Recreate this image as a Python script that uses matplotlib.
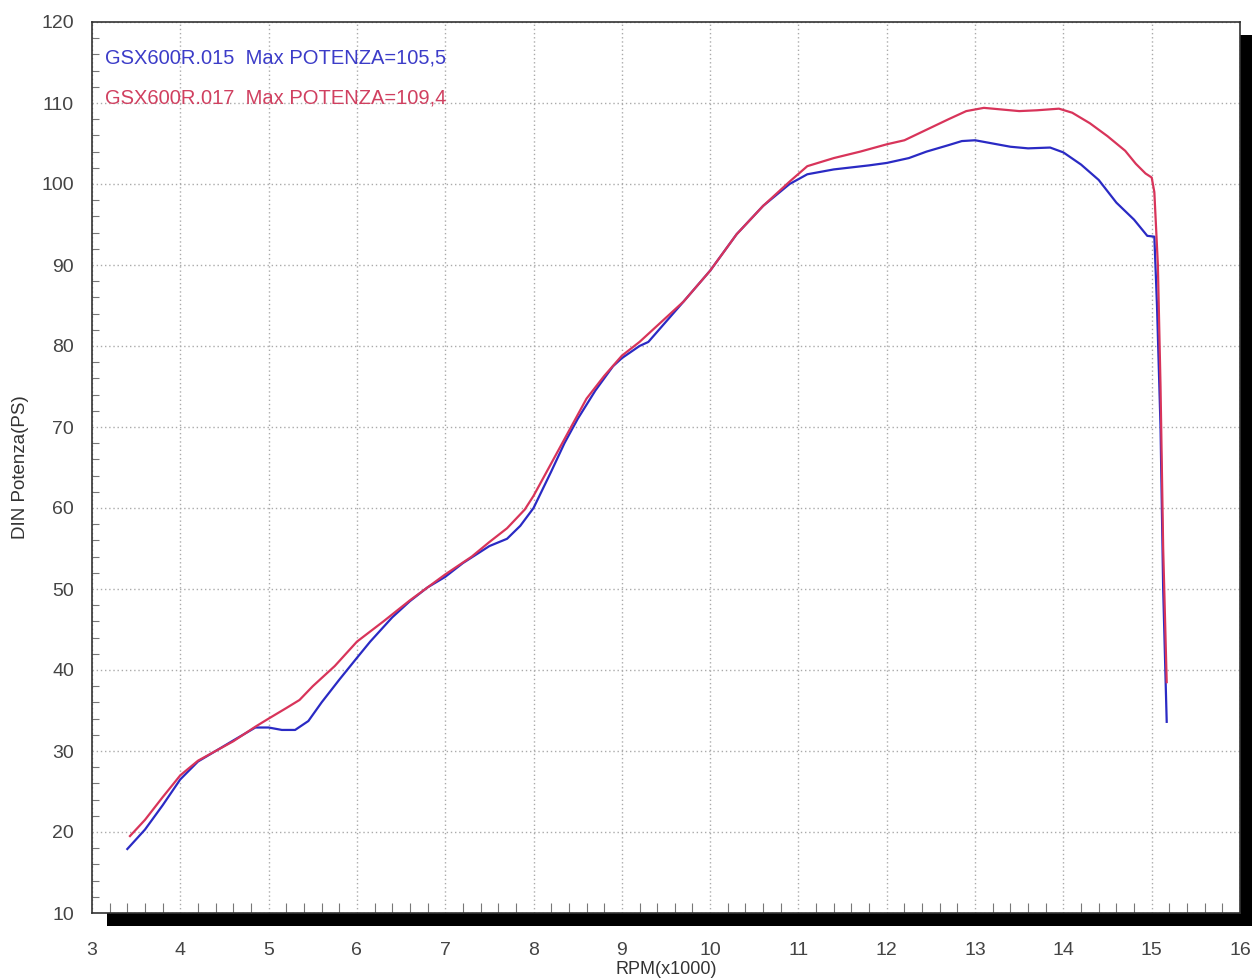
import matplotlib
matplotlib.use("Agg")
import matplotlib.pyplot as plt
from matplotlib.patches import Rectangle
from matplotlib.ticker import MultipleLocator

# run .015 (blue)
rpm_015 = [3.40, 3.60, 3.80, 4.00, 4.20, 4.40, 4.60, 4.85, 5.00, 5.15, 5.30, 5.45,
           5.60, 5.80, 6.00, 6.15, 6.40, 6.60, 6.80, 7.00, 7.20, 7.50, 7.70, 7.85,
           8.00, 8.20, 8.35, 8.50, 8.70, 8.90, 9.00, 9.20, 9.30, 9.50, 9.70, 10.00,
           10.30, 10.60, 10.90, 11.10, 11.40, 11.80, 12.00, 12.25, 12.45, 12.70, 12.85,
           13.00, 13.20, 13.40, 13.60, 13.85, 14.00, 14.20, 14.40, 14.60, 14.80, 14.95,
           15.03, 15.06, 15.10, 15.13, 15.17]
ps_015 = [17.9, 20.3, 23.3, 26.5, 28.7, 30.0, 31.3, 32.9, 32.9, 32.6, 32.6, 33.7,
          36.0, 38.8, 41.5, 43.5, 46.5, 48.5, 50.2, 51.5, 53.2, 55.3, 56.2, 57.8,
          60.0, 64.5, 68.0, 71.0, 74.5, 77.5, 78.5, 80.0, 80.5, 83.0, 85.5, 89.3,
          93.8, 97.3, 100.0, 101.2, 101.8, 102.3, 102.6, 103.2, 104.0, 104.8, 105.3,
          105.4, 105.0, 104.6, 104.4, 104.5, 103.9, 102.4, 100.5, 97.7, 95.6, 93.6,
          93.5, 85.0, 70.0, 50.0, 33.6]

# run .017 (red)
rpm_017 = [3.43, 3.60, 3.80, 4.00, 4.20, 4.40, 4.60, 4.85, 5.00, 5.20, 5.35, 5.50,
           5.75, 6.00, 6.30, 6.60, 7.00, 7.30, 7.50, 7.70, 7.90, 8.00, 8.20, 8.40,
           8.60, 8.80, 9.00, 9.20, 9.40, 9.70, 10.00, 10.30, 10.60, 10.90, 11.10,
           11.40, 11.70, 12.00, 12.20, 12.45, 12.70, 12.90, 13.10, 13.30, 13.50,
           13.70, 13.95, 14.10, 14.30, 14.50, 14.70, 14.82, 14.93, 15.00, 15.03,
           15.07, 15.10, 15.13, 15.17]
ps_017 = [19.5, 21.5, 24.3, 27.0, 28.8, 30.0, 31.2, 33.0, 34.0, 35.3, 36.3, 38.0,
          40.5, 43.5, 46.0, 48.6, 51.8, 54.0, 55.8, 57.5, 59.8, 61.5, 65.5, 69.5,
          73.5, 76.3, 78.8, 80.5, 82.5, 85.5, 89.3, 93.8, 97.3, 100.3, 102.2,
          103.2, 104.0, 104.9, 105.4, 106.7, 108.0, 109.0, 109.4, 109.2, 109.0,
          109.1, 109.3, 108.8, 107.5, 105.9, 104.1, 102.5, 101.3, 100.8, 99.0,
          90.0, 75.0, 55.0, 38.5]

labels = ["GSX600R.015  Max POTENZA=105,5", "GSX600R.017  Max POTENZA=109,4"]
line_colors = ["#2a2ac4", "#d8345a"]
text_colors = ["#3c3cc8", "#d04060"]

W, H = 1254, 980
plt.rcParams["font.family"] = ["Liberation Sans", "DejaVu Sans"]
fig = plt.figure(figsize=(W / 100, H / 100), dpi=100)

# drop shadow behind the plot frame
fig.patches.append(Rectangle((107 / W, 1 - 926 / H), (1252 - 107) / W, (926 - 35) / H,
                             transform=fig.transFigure, facecolor="black",
                             edgecolor="none", zorder=0))

ax = fig.add_axes([92 / W, 1 - 913 / H, (1240 - 92) / W, (913 - 22) / H])
ax.set_zorder(1)
ax.set_facecolor("white")

ax.plot(rpm_015, ps_015, color=line_colors[0], lw=1.6, zorder=3)
ax.plot(rpm_017, ps_017, color=line_colors[1], lw=1.6, zorder=4)

ax.set_xlim(3, 16)
ax.set_ylim(10, 120)
ax.xaxis.set_major_locator(MultipleLocator(1))
ax.xaxis.set_minor_locator(MultipleLocator(0.2))
ax.yaxis.set_major_locator(MultipleLocator(10))
ax.yaxis.set_minor_locator(MultipleLocator(2))
ax.grid(which="major", color="#aaaaaa", linestyle=(0, (1, 2)), linewidth=1)

ax.tick_params(axis="x", which="major", length=0, pad=21, labelsize=14, labelcolor="#444444")
ax.tick_params(axis="y", which="major", length=0, pad=13, labelsize=14, labelcolor="#444444")
ax.tick_params(axis="x", which="minor", direction="in", length=7, width=0.8, color="#777777")
ax.tick_params(axis="y", which="minor", direction="in", length=5, width=0.8, color="#777777")

for s in ax.spines.values():
    s.set_color("#333333")
    s.set_linewidth(1.2)

ax.set_xlabel("RPM(x1000)", fontsize=13, color="#333333", labelpad=1)
ax.set_ylabel("DIN Potenza(PS)", fontsize=13.5, color="#333333", labelpad=9)

ax.text(0.011, 0.960, labels[0], transform=ax.transAxes, color=text_colors[0],
        fontsize=14.5, va="center", ha="left")
ax.text(0.011, 0.915, labels[1], transform=ax.transAxes, color=text_colors[1],
        fontsize=14.5, va="center", ha="left")

fig.savefig("out.png", dpi=100)
